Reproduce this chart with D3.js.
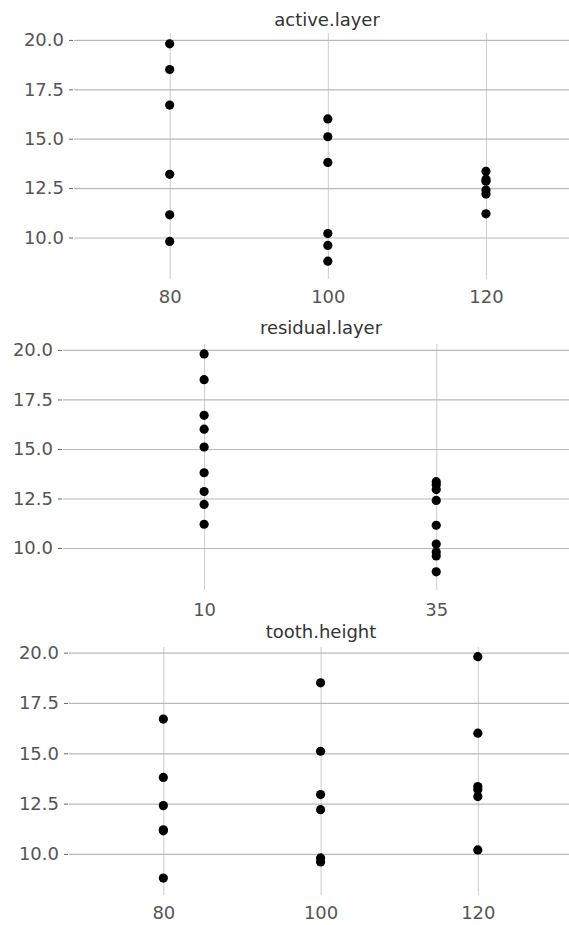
<!DOCTYPE html>
<html>
<head>
<meta charset="utf-8">
<script src="https://cdn.jsdelivr.net/npm/d3@7"></script>
<style>
body{margin:0;background:#fff;}
svg{display:block;}
</style>
</head>
<body>
<div class="chart-container"></div>
<script>
//////////////////////データ//////////////////////
//応答値（18点）
var response=[19.8,18.5,16.7,13.2,11.15,9.8, 16.0,15.1,13.8,10.2,9.6,8.8, 13.35,12.95,12.85,12.4,12.2,11.2];
//因子
var active_layer=[80,80,80,80,80,80, 100,100,100,100,100,100, 120,120,120,120,120,120];
var residual_layer=[10,10,10,35,35,35, 10,10,10,35,35,35, 35,35,10,35,10,10];
var tooth_height=[120,100,80,120,80,100, 120,100,80,120,100,80, 120,100,120,80,100,80];
//パネル
var panel_titles=["active.layer","residual.layer","tooth.height"];
var panel_factors=[active_layer,residual_layer,tooth_height];
var x_ticks=[[80,100,120],[10,35],[80,100,120]];
var y_ticks=[10,12.5,15,17.5,20];

//////////////////////描画パラメータ//////////////////////
var W=569,H=925;
var font="'DejaVu Sans',Verdana,sans-serif";
var layout=[
    {top:33, bottom:279, left:74, right:569, xdom:[67.9,130.5], ydom:[7.9,20.35], titleX:327, titleY:26, pad:11},
    {top:344, bottom:590, left:63, right:569, xdom:[-5.2,49.3], ydom:[7.88,20.3], titleX:321, titleY:334, pad:13},
    {top:647, bottom:895, left:69, right:569, xdom:[68.0,131.6], ydom:[7.96,20.28], titleX:321, titleY:638, pad:11}
];

var svg=d3.select(".chart-container").append("svg").attr("width",W).attr("height",H);

panel_titles.forEach(function(title,i){
    var L=layout[i];
    var xScale=d3.scaleLinear().domain(L.xdom).range([L.left,L.right]);
    var yScale=d3.scaleLinear().domain(L.ydom).range([L.bottom,L.top]);
    var g=svg.append("g");

    //縦グリッド＋x軸ラベル
    g.append("g")
    .attr("transform","translate(0,"+L.bottom+")")
    .call(d3.axisBottom(xScale).tickValues(x_ticks[i]).tickSize(-(L.bottom-L.top)).tickPadding(L.pad))
    .call(function(a){
        a.select(".domain").remove();
        a.selectAll("line").attr("stroke","#cccccc").attr("stroke-width",1);
        a.selectAll("text").attr("fill","#555").style("font-family",font).style("font-size","18px");
    });
    //横グリッド
    g.append("g")
    .attr("transform","translate("+L.left+",0)")
    .call(d3.axisLeft(yScale).tickValues(y_ticks).tickSize(-(L.right-L.left)).tickFormat(""))
    .call(function(a){
        a.select(".domain").remove();
        a.selectAll("line").attr("stroke","#b9b9b9").attr("stroke-width",1.2);
    });
    //y軸ラベル
    g.append("g")
    .attr("transform","translate("+(L.left-1)+",0)")
    .call(d3.axisLeft(yScale).tickValues(y_ticks).tickSize(4).tickPadding(5).tickFormat(d3.format(".1f")))
    .call(function(a){
        a.select(".domain").remove();
        a.selectAll("line").attr("stroke","#666");
        a.selectAll("text").attr("fill","#555").style("font-family",font).style("font-size","18px");
    });

    //タイトル
    g.append("text")
    .attr("x",L.titleX).attr("y",L.titleY)
    .attr("text-anchor","middle")
    .attr("fill","#333")
    .style("font-family",font).style("font-size","18px")
    .text(title);

    //点
    var fac=panel_factors[i];
    g.append("g")
    .selectAll("circle")
    .data(response)
    .enter()
    .append("circle")
    .attr("cx",function(d,n){return xScale(fac[n]);})
    .attr("cy",function(d){return yScale(d);})
    .attr("fill","#000")
    .attr("r",4.6);
});
</script>
</body>
</html>
